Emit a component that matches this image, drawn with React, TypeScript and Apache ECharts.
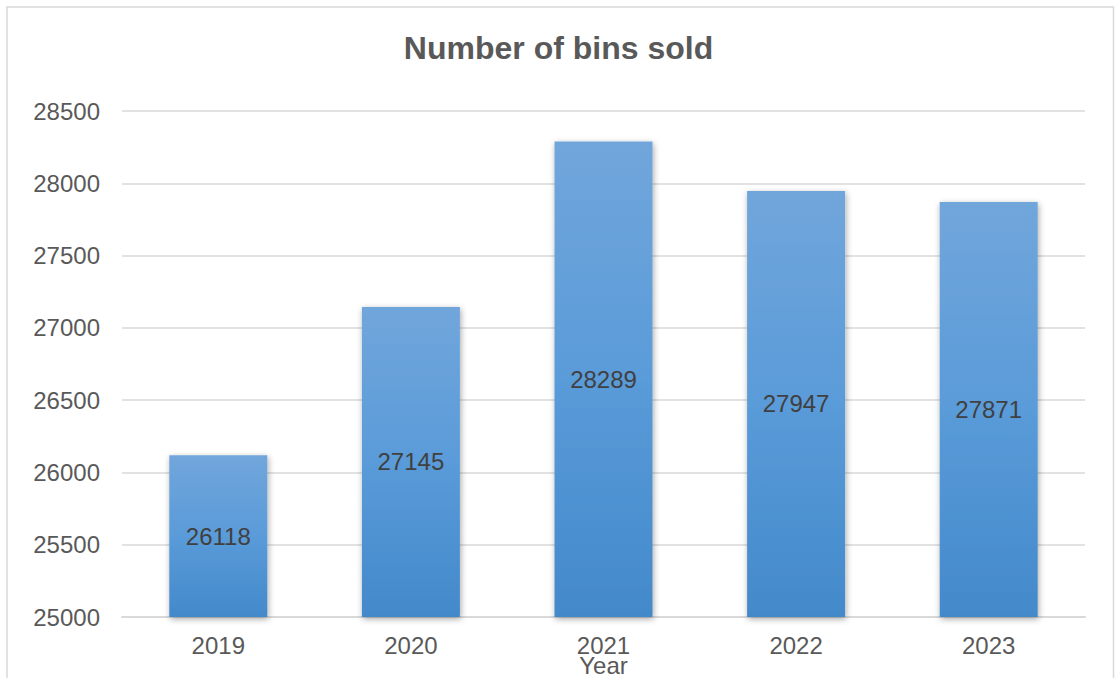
import React, { useEffect, useRef } from "react";
import * as echarts from "echarts";

const categories = ["2019", "2020", "2021", "2022", "2023"];
const binsSold = [26118, 27145, 28289, 27947, 27871];
const yMin = 25000;
const yMax = 28500;
const yInterval = 500;

const FONT = "'Liberation Sans', Arial, sans-serif";

export default function App() {
  const ref = useRef<HTMLDivElement>(null);
  useEffect(() => {
    document.body.style.margin = "0";
    const chart = echarts.init(ref.current!, null, { renderer: "svg" });
    chart.setOption({
      animation: false,
      backgroundColor: "#ffffff",
      title: {
        text: "Number of bins sold",
        left: "center",
        top: 27,
        textStyle: { fontFamily: FONT, fontSize: 32, fontWeight: "bold", color: "#595959" },
      },
      graphic: [
        {
          type: "rect",
          shape: { x: 7, y: 7, width: 1106.5, height: 700 },
          style: { fill: "none", stroke: "#d9d9d9", lineWidth: 1.5 },
          silent: true,
          z: -1,
        },
      ],
      grid: { left: 122, right: 32, top: 111, bottom: 61, containLabel: false, outerBoundsMode: "none" },
      xAxis: {
        type: "category",
        data: categories,
        name: "Year",
        nameLocation: "middle",
        nameGap: 36,
        nameMoveOverlap: false,
        nameTextStyle: { fontFamily: FONT, fontSize: 24, color: "#595959" },
        axisLine: { show: true, lineStyle: { color: "#d9d9d9", width: 2 } },
        axisTick: { show: false },
        axisLabel: { fontFamily: FONT, fontSize: 24, color: "#595959", margin: 16 },
      },
      yAxis: {
        type: "value",
        min: yMin,
        max: yMax,
        interval: yInterval,
        axisLine: { show: false },
        axisTick: { show: false },
        splitLine: { lineStyle: { color: "#d9d9d9", width: 1.5 } },
        axisLabel: {
          fontFamily: FONT,
          fontSize: 24,
          color: "#595959",
          margin: 22,
          formatter: (v: number) => String(v),
        },
      },
      series: [
        {
          type: "bar",
          data: binsSold,
          barWidth: 98,
          itemStyle: {
            color: new echarts.graphic.LinearGradient(0, 0, 0, 1, [
              { offset: 0, color: "#71a6db" },
              { offset: 0.5, color: "#5a9bd9" },
              { offset: 1, color: "#4389ca" },
            ]),
            shadowColor: "rgba(0,0,0,0.35)",
            shadowBlur: 6,
            shadowOffsetX: 1,
            shadowOffsetY: 2,
          },
          label: {
            show: true,
            position: "inside",
            fontFamily: FONT,
            fontSize: 24,
            color: "#404040",
          },
        },
      ],
    });
    return () => chart.dispose();
  }, []);
  return <div ref={ref} style={{ width: 1117, height: 678 }} />;
}
